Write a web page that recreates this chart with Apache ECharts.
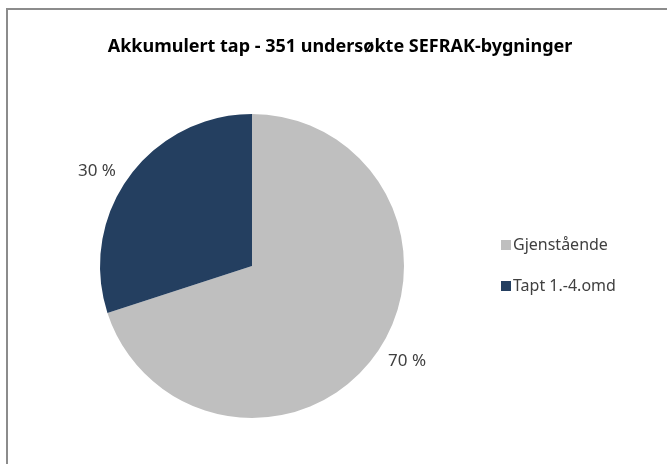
<!DOCTYPE html>
<html>
<head>
<meta charset="utf-8">
<script src="https://cdn.jsdelivr.net/npm/echarts@6/dist/echarts.min.js"></script>
<style>
	html, body { margin: 0; padding: 0; background: #fff; }
	#wrap { position: relative; width: 667px; height: 464px; }
	#chart { width: 667px; height: 464px; }
	#frame { position: absolute; left: 6px; top: 8px; right: -4px; bottom: -4px; border-left: 2px solid #8c8c8c; border-top: 2px solid #8c8c8c; pointer-events: none; }
</style>
</head>
<body>
<div id="wrap">
	<div id="chart"></div>
	<div id="frame"></div>
</div>
<script>
var titleText = 'Akkumulert tap - 351 undersøkte SEFRAK-bygninger';
var categories = ['Gjenstående', 'Tapt 1.-4.omd'];
var values = [70, 30];
var colors = ['#bfbfbf', '#243f60'];

var chart = echarts.init(document.getElementById('chart'));
var data = [];
for (var i = 0; i < categories.length; i++) {
	data.push({ value: values[i], name: categories[i], itemStyle: { color: colors[i] } });
}
var option = {
	animation: false,
	title: {
		text: titleText,
		left: 335,
		top: 33,
		textAlign: 'center',
		textStyle: { fontFamily: 'Noto Sans', fontWeight: 'bold', fontSize: 18, color: '#000' }
	},
	legend: {
		orient: 'vertical',
		left: 496,
		top: 232,
		itemGap: 25,
		itemWidth: 10,
		itemHeight: 10,
		icon: 'rect',
		data: categories,
		textStyle: { fontFamily: 'Noto Sans', fontSize: 16, color: '#404040', padding: [0, 0, 0, -3] }
	},
	series: [{
		type: 'pie',
		center: [252, 266],
		radius: 152,
		startAngle: 90,
		clockwise: true,
		data: data,
		label: {
			show: true,
			position: 'outside',
			formatter: function (p) { return p.value + ' %'; },
			fontFamily: 'Noto Sans',
			fontSize: 17,
			color: '#404040'
		},
		labelLine: { show: false, length: 10, length2: 0 },
		emphasis: { disabled: true }
	}]
};
chart.setOption(option);
</script>
</body>
</html>
